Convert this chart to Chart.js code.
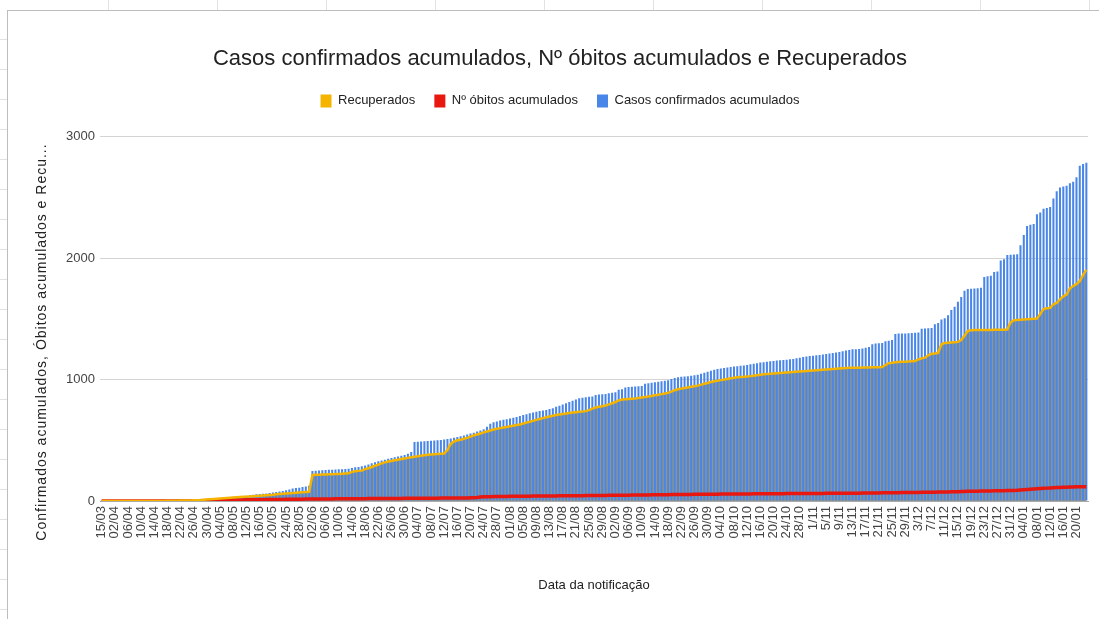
<!DOCTYPE html>
<html>
<head>
<meta charset="utf-8">
<script src="https://cdn.jsdelivr.net/npm/chart.js@4.4.1/dist/chart.umd.min.js"></script>
<style>
  html, body { margin: 0; padding: 0; background: #fff; overflow: hidden; }
  #wrap { position: relative; width: 1099px; height: 619px; overflow: hidden; }
  canvas { position: absolute; left: 0; top: 0; }
  #frame { position: absolute; left: 7px; top: 10px; width: 1200px; height: 700px;
           border-top: 1px solid #bdbdbd; border-left: 1px solid #bdbdbd; }
  #colmarks { position: absolute; left: 0; top: 0; width: 1099px; height: 10px;
              background: repeating-linear-gradient(to right, transparent 0 108px, #e2e2e2 108px 109px); }
  #rowmarks { position: absolute; left: 0; top: 10px; width: 7px; height: 609px;
              background: repeating-linear-gradient(to bottom, transparent 0 29px, #e2e2e2 29px 30px); }
</style>
</head>
<body>
<div id="wrap">
  <canvas id="chart" width="1121" height="619"></canvas>
  <div id="colmarks"></div>
  <div id="rowmarks"></div>
  <div id="frame"></div>
</div>
<script>
// categorias: 4 datas iniciais + diario de 02/04 a 23/01 (sem 31/05)
const firstDays = ['15/03', '20/03', '25/03', '30/03'];
const dailyFrom = '2020-04-02';
const dailyTo = '2021-01-23';
const missingDays = ['2020-05-31'];
const unpaddedMonths = [11, 12]; // nov/dez aparecem como 1/11, 3/12...

const yTicks = [0, 1000, 2000, 3000];

const casos = [
  1,1,2,3,4,4,5,5,5,6,
  6,6,7,7,7,8,8,8,9,9,
  10,10,10,11,11,12,12,13,13,14,
  15,15,16,18,20,22,25,28,30,32,
  34,36,38,40,44,48,52,55,58,60,
  62,65,70,74,78,82,88,95,102,106,
  110,115,120,125,247,249,251,253,255,257,
  258,260,261,262,264,266,272,277,280,286,
  292,300,310,320,328,334,340,348,354,360,
  366,372,378,390,403,486,488,490,492,494,
  496,498,500,503,506,510,515,520,527,533,
  540,548,555,562,572,580,590,612,635,648,
  655,662,668,674,680,686,692,700,708,715,
  722,728,734,740,745,750,757,764,775,785,
  795,805,815,825,835,845,850,854,858,860,
  872,876,878,880,888,892,895,915,920,935,
  938,940,942,944,946,965,970,974,978,982,
  986,990,995,1005,1012,1018,1022,1025,1028,1032,
  1036,1040,1048,1056,1064,1072,1080,1086,1090,1095,
  1100,1104,1108,1110,1113,1116,1120,1125,1130,1135,
  1140,1143,1146,1150,1153,1156,1158,1160,1163,1166,
  1170,1175,1180,1185,1190,1193,1196,1200,1203,1206,
  1210,1214,1218,1222,1226,1232,1238,1244,1249,1250,
  1252,1255,1262,1268,1290,1296,1298,1300,1316,1320,
  1325,1375,1378,1380,1380,1382,1383,1385,1388,1418,
  1420,1422,1425,1455,1465,1495,1505,1530,1572,1600,
  1640,1680,1730,1745,1748,1750,1752,1756,1845,1850,
  1855,1885,1890,1980,1990,2025,2028,2030,2032,2105,
  2190,2265,2275,2280,2360,2375,2405,2412,2420,2490,
  2550,2580,2590,2595,2615,2628,2665,2760,2775,2785
];

const recuperados = [
  0,0,0,0,0,0,0,0,0,0,
  0,0,0,0,0,0,0,0,1,1,
  2,2,3,3,4,4,5,5,6,7,
  8,10,12,14,16,18,20,22,24,26,
  28,30,32,34,36,38,40,42,44,46,
  48,50,52,55,58,60,62,64,66,68,
  70,72,74,76,214,216,217,218,219,220,
  221,222,223,225,227,229,240,245,248,250,
  262,270,280,290,300,310,318,325,330,335,
  340,345,350,355,360,365,368,372,376,380,
  382,384,386,388,390,420,470,490,500,505,
  512,520,530,540,548,556,565,572,580,588,
  595,600,605,610,615,620,625,630,638,645,
  652,660,668,675,682,690,696,702,708,712,
  716,720,724,728,731,734,736,740,748,760,
  770,776,780,786,795,805,815,828,835,838,
  840,842,844,848,852,856,860,865,870,875,
  880,885,890,900,912,920,925,930,935,940,
  945,950,958,965,972,980,986,990,995,1000,
  1005,1010,1015,1018,1020,1022,1025,1028,1032,1036,
  1040,1043,1046,1048,1050,1052,1054,1056,1058,1060,
  1062,1064,1066,1068,1070,1072,1074,1076,1078,1080,
  1082,1084,1086,1088,1090,1092,1094,1096,1097,1098,
  1098,1099,1100,1100,1101,1102,1102,1103,1120,1135,
  1138,1142,1144,1146,1147,1148,1150,1152,1165,1174,
  1180,1200,1212,1215,1220,1290,1300,1303,1305,1306,
  1310,1325,1360,1400,1405,1407,1407,1407,1408,1408,
  1408,1409,1409,1410,1410,1412,1470,1488,1490,1492,
  1494,1496,1498,1500,1502,1540,1580,1586,1590,1620,
  1630,1660,1685,1700,1750,1770,1785,1810,1860,1905
];

const obitos = [
  0,0,0,0,0,0,0,0,0,0,
  0,0,0,0,0,0,0,0,0,0,
  0,0,0,0,0,0,1,1,2,2,
  3,3,4,5,5,6,6,7,7,8,
  8,8,9,9,10,10,10,11,11,11,
  12,12,12,13,13,13,14,14,14,15,
  15,15,16,16,16,16,17,17,17,17,
  17,18,18,18,18,18,19,19,19,19,
  19,20,20,20,20,20,20,21,21,21,
  21,21,22,22,22,22,22,23,23,23,
  23,23,23,24,24,24,24,24,25,25,
  25,25,26,26,28,32,34,35,36,37,
  37,38,38,38,39,39,39,40,40,40,
  40,41,41,41,41,42,42,42,42,43,
  43,43,43,44,44,44,44,45,45,45,
  45,46,46,46,47,47,47,47,48,48,
  48,49,49,49,50,50,50,51,51,51,
  52,52,52,53,53,53,54,54,54,54,
  55,55,55,55,56,56,56,56,57,57,
  57,57,57,58,58,58,58,58,59,59,
  59,59,59,60,60,60,60,60,61,61,
  61,61,61,61,62,62,62,62,62,62,
  63,63,63,63,63,63,63,64,64,64,
  64,65,65,65,66,66,66,67,67,67,
  68,68,68,69,69,70,70,71,71,72,
  72,72,73,73,74,74,75,75,76,76,
  77,78,79,80,80,81,81,82,82,83,
  83,84,84,85,85,86,86,87,88,90,
  92,94,96,98,100,102,104,106,108,110,
  111,112,113,114,115,116,117,117,118,118
];

const seriesNames = ['Recuperados', 'Nº óbitos acumulados', 'Casos confirmados acumulados'];
const seriesColors = ['#f4b400', '#e8170f', '#4a86e8'];
const chartTitle = 'Casos confirmados acumulados, Nº óbitos acumulados e Recuperados';
const xAxisTitle = 'Data da notificação';
const yAxisTitle = 'Confirmados acumulados, Óbitos acumulados e Recu...';

function buildDates() {
  const out = firstDays.slice();
  const d = new Date(dailyFrom + 'T12:00:00');
  const end = new Date(dailyTo + 'T12:00:00');
  while (d <= end) {
    const iso = d.getFullYear() + '-' + String(d.getMonth() + 1).padStart(2, '0') + '-' + String(d.getDate()).padStart(2, '0');
    if (!missingDays.includes(iso)) {
      const m = d.getMonth() + 1;
      const day = unpaddedMonths.includes(m) ? String(d.getDate()) : String(d.getDate()).padStart(2, '0');
      out.push(day + '/' + String(m).padStart(2, '0'));
    }
    d.setDate(d.getDate() + 1);
  }
  return out;
}
const datas = buildDates();

const FONT = "'Liberation Sans', Arial, sans-serif";
Chart.defaults.font.family = FONT;
Chart.defaults.color = '#444';

// titulo do eixo y desenhado a mao (o original fica truncado)
const yTitlePlugin = {
  id: 'yTitle',
  afterDraw(chart) {
    const ctx = chart.ctx;
    ctx.save();
    ctx.translate(42, 342);
    ctx.rotate(-Math.PI / 2);
    ctx.font = '14px ' + FONT;
    ctx.letterSpacing = '1px';
    ctx.fillStyle = '#222';
    ctx.textAlign = 'center';
    ctx.textBaseline = 'middle';
    ctx.fillText(yAxisTitle, 0, 0);
    ctx.restore();
  }
};

new Chart(document.getElementById('chart'), {
  data: {
    labels: datas,
    datasets: [{
      type: 'line',
      label: seriesNames[0],
      data: recuperados,
      borderColor: seriesColors[0],
      backgroundColor: 'rgb(150, 150, 128)',
      borderWidth: 2.5,
      pointRadius: 0,
      fill: 'origin',
      order: 0
    }, {
      type: 'line',
      label: seriesNames[1],
      data: obitos,
      borderColor: seriesColors[1],
      backgroundColor: 'rgba(220, 30, 20, 0.6)',
      borderWidth: 3.5,
      pointRadius: 0,
      fill: 'origin',
      order: 1
    }, {
      type: 'bar',
      label: seriesNames[2],
      data: casos,
      backgroundColor: seriesColors[2],
      barPercentage: 0.62,
      categoryPercentage: 1.0,
      order: 2
    }]
  },
  options: {
    responsive: false,
    animation: false,
    devicePixelRatio: 1,
    layout: { padding: { left: 0, right: 1, top: 0, bottom: 22 } },
    scales: {
      x: {
        type: 'category',
        offset: true,
        grid: { display: false, drawTicks: false },
        border: { display: true, color: '#aaa' },
        ticks: {
          autoSkip: false,
          maxRotation: 90,
          minRotation: 90,
          padding: 5,
          color: '#444',
          font: { size: 13 },
          callback: (v, i) => (i % 4 === 0 ? datas[i] : '')
        },
        title: {
          display: true,
          text: xAxisTitle,
          color: '#222',
          font: { size: 13 },
          padding: { top: 0, bottom: 4 }
        },
        afterFit: (scale) => { scale.height = 96; }
      },
      y: {
        position: 'left',
        min: yTicks[0],
        max: yTicks[yTicks.length - 1],
        afterBuildTicks: (scale) => { scale.ticks = yTicks.map(v => ({ value: v })); },
        grid: { color: '#d4d4d4', drawTicks: false },
        border: { display: false },
        ticks: { padding: 5, color: '#444', font: { size: 13 }, callback: (v) => String(v) },
        afterFit: (scale) => { scale.width = 100; }
      },
      yRight: {
        position: 'right',
        min: 0,
        max: 1,
        grid: { display: false },
        border: { display: false },
        ticks: { display: false },
        afterFit: (scale) => { scale.width = 32; }
      }
    },
    plugins: {
      filler: { drawTime: 'beforeDatasetsDraw' },
      tooltip: { enabled: false },
      title: {
        display: true,
        text: chartTitle,
        color: '#222',
        font: { size: 22, weight: 'normal' },
        padding: { top: 46, bottom: 3 }
      },
      legend: {
        position: 'top',
        labels: {
          boxWidth: 11,
          boxHeight: 13,
          padding: 19,
          color: '#222',
          font: { size: 13 },
          generateLabels(chart) {
            const items = Chart.defaults.plugins.legend.labels.generateLabels(chart);
            items.forEach(it => {
              const c = seriesColors[it.datasetIndex];
              it.fillStyle = c;
              it.strokeStyle = c;
              it.lineWidth = 0;
            });
            return items;
          }
        }
      },
      subtitle: {
        display: true,
        text: ' ',
        weight: 500,
        font: { size: 1 },
        padding: { top: 0, bottom: 18 }
      }
    }
  },
  plugins: [yTitlePlugin]
});
</script>
</body>
</html>
